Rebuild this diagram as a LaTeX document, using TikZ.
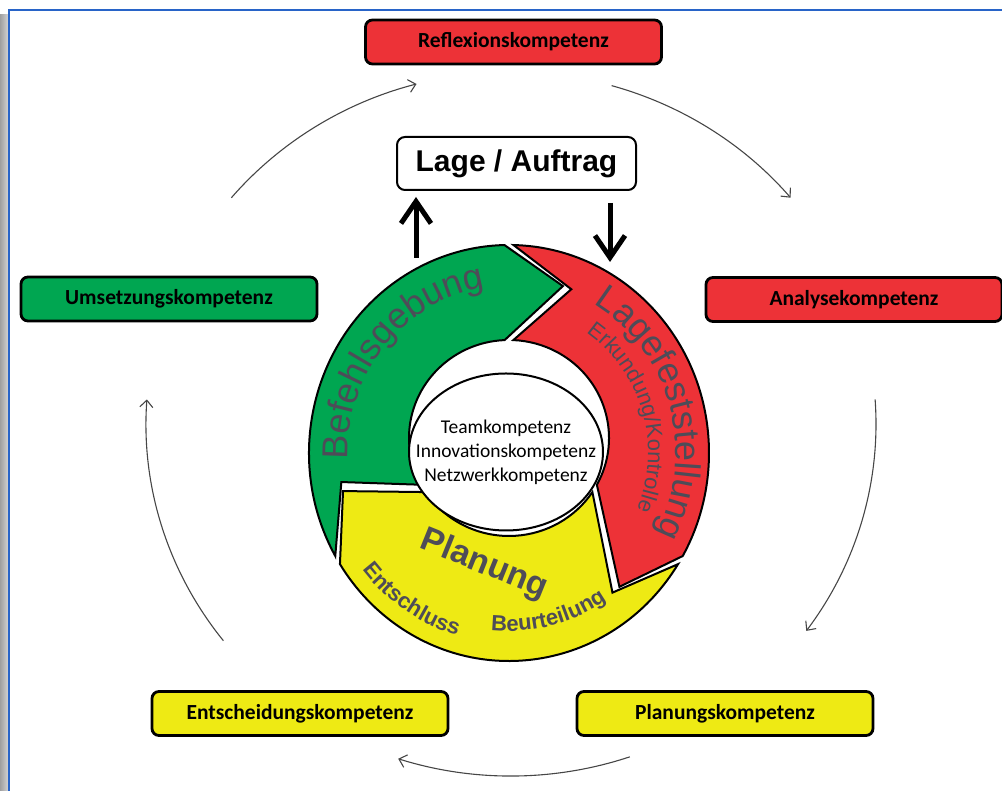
\documentclass[tikz,border=0pt]{standalone}
\usepackage{fontspec}
\setmainfont{Liberation Sans}
\newfontfamily\calfont{Carlito}
\usetikzlibrary{
  arrows.meta,
  calc,
  decorations.text,
  shapes.geometric
}
\definecolor{kgreen}{RGB}{0,166,81}
\definecolor{kred}{RGB}{237,50,55}
\definecolor{kyellow}{RGB}{238,234,20}
\definecolor{ringtext}{RGB}{78,76,88}
\definecolor{arcgray}{RGB}{70,70,70}
\definecolor{frameblue}{RGB}{40,100,200}

\begin{document}
\begin{tikzpicture}[
  x=1pt, y=1pt,
  every node/.style={font=\calfont},
  kbox/.style={draw=black, line width=2.8pt, rounded corners=7pt,
               minimum width=296pt, minimum height=44pt, inner sep=0,
               font=\calfont\bfseries\fontsize{21.5}{24}\selectfont},
  ring/.style={draw=black, line width=2pt},
  thinarc/.style={draw=arcgray, line width=1.1pt,
                  -{Straight Barb[length=7pt,width=13pt]}},
  bigarrow/.style={line width=5pt, -{Straight Barb[length=22pt,width=30pt]}}
]
\useasboundingbox (0,0) rectangle (1002,791);

% Frame
\shade[left color=gray!75, right color=gray!35] (0,0) rectangle (8,776);
\draw[frameblue, line width=1.2pt] (9,0) -- (9,781) -- (1002,781);

% Centres
\coordinate (O) at (509,338);
\coordinate (I) at (509,353);
\coordinate (C) at (511,367);

% Competence boxes
\foreach \n/\x/\y/\c/\t in {
  refl/513.5/749/kred/Reflexionskompetenz,
  umsetz/169/492/kgreen/Umsetzungskompetenz,
  analyse/854/491.5/kred/Analysekompetenz,
  entsch/300/77.5/kyellow/Entscheidungskompetenz,
  planbox/725/77.5/kyellow/Planungskompetenz
} {
  \node[kbox, fill=\c] (\n) at (\x,\y) {\t};
}

% Outer cycle
\foreach \n/\a/\b in {a1/140/105, a2/74/40, a3/4/-36, a4/-71/-108, a5/218/176} {
  \coordinate (\n) at ($(C)+(\a:365pt and 352pt)$);
  \draw[thinarc] (\n) arc[start angle=\a, end angle=\b,
                          x radius=365pt, y radius=352pt];
}

% Ring segments
\foreach \c/\bs/\be in {kred/90/-31, kyellow/-31/-149, kgreen/211/90} {
  \filldraw[ring, fill=\c]
    ($(O)+({\bs-1.3}:200pt and 208pt)$)
    arc[start angle=\bs-1.3, end angle=\be+1.3, x radius=200pt, y radius=208pt]
    -- ($(O)+({\be-18.5}:170pt and 176pt)$)
    -- ($(I)+({\be+2.5}:100pt and 98pt)$)
    arc[start angle=\be+2.5, end angle=\bs-2.5, x radius=100pt, y radius=98pt]
    -- ($(O)+({\bs-21.5}:170pt and 176pt)$)
    -- cycle;
}

% Ring labels
\path[decorate, decoration={text along path, text align=center,
  text={|\fontsize{36}{36}\selectfont\color{ringtext}|Befehlsgebung}}]
  ($(O)+(210:161pt and 167pt)$)
  arc[start angle=210, end angle=70, x radius=161pt, y radius=167pt];
\path[decorate, decoration={text along path, text align=center,
  text={|\fontsize{36}{36}\selectfont\color{ringtext}|Lagefeststellung}}]
  ($(O)+(86:167pt and 173pt)$)
  arc[start angle=86, end angle=-54, x radius=167pt, y radius=173pt];
\path[decorate, decoration={text along path, text align=center,
  text={|\fontsize{22}{22}\selectfont\color{ringtext}|Erkundung/Kontrolle}}]
  ($(O)+(87:139pt and 145pt)$)
  arc[start angle=87, end angle=-53, x radius=139pt, y radius=145pt];
\path[decorate, decoration={text along path, text align=center,
  text={|\bfseries\fontsize{22}{22}\selectfont\color{ringtext}|Entschluss}}]
  ($(O)+(-160:186pt and 190pt)$)
  arc[start angle=-160, end angle=-88, x radius=186pt, y radius=190pt];
\path[decorate, decoration={text along path, text align=center,
  text={|\bfseries\fontsize{22}{22}\selectfont\color{ringtext}|Beurteilung}}]
  ($(O)+(-112:174pt and 178pt)$)
  arc[start angle=-112, end angle=-40, x radius=174pt, y radius=178pt];
\node[rotate=-22, text=ringtext, font=\bfseries\fontsize{34}{34}\selectfont]
  (planung) at (484,226) {Planung};

% Core
\node[ellipse, draw, line width=2pt, fill=white, inner sep=0,
      minimum width=194pt, minimum height=157pt] (core) at (506,339) {};
\node[align=center, font=\calfont\fontsize{19.5}{24}\selectfont]
  (corelbl) at (core.center)
  {Teamkompetenz\\Innovationskompetenz\\Netzwerkkompetenz};

% Lage / Auftrag
\node[draw, line width=2pt, rounded corners=8pt, fill=white,
      minimum width=239pt, minimum height=53pt, inner sep=0,
      font=\bfseries\fontsize{30}{30}\selectfont] (lage) at (516.5,627.5)
  {Lage / Auftrag};
\coordinate (befTop) at (416,533);
\coordinate (lagTop) at (610,529);
\draw[bigarrow, shorten >=6pt] (befTop) -- (befTop |- lage.south);
\draw[bigarrow, shorten <=12pt] (lagTop |- lage.south) -- (lagTop);

\end{tikzpicture}
\end{document}
